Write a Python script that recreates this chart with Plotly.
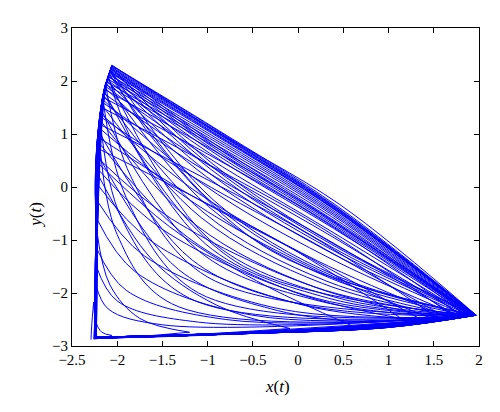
import plotly.graph_objects as go

# ---- trajectory key points, one entry per loop ----
apex_x = [-2.26, -2.225, -2.215, -2.21, -2.21, -2.205, -2.2, -2.2, -2.195, -2.19,
          -2.19, -2.185, -2.18, -2.18, -2.175, -2.17, -2.17, -2.165, -2.16, -2.155,
          -2.15, -2.15, -2.145, -2.14, -2.135, -2.13, -2.125, -2.12, -2.118, -2.115,
          -2.11, -2.108, -2.105, -2.1, -2.098, -2.095, -2.093, -2.09, -2.088, -2.085,
          -2.083, -2.08, -2.078, -2.076, -2.074, -2.072, -2.07, -2.068, -2.066, -2.064,
          -2.062, -2.061, -2.06, -2.06] + \
         [-2.235, -2.23, -2.23, -2.225, -2.225, -2.22, -2.22, -2.215,
          -2.13, -2.16, -2.1, -2.19, -2.08, -2.2]
apex_y = [-2.17, -0.83, 0.24, 0.45, 0.60, 0.72, 0.83, 0.93, 1.02, 1.10,
          1.18, 1.25, 1.32, 1.38, 1.44, 1.50, 1.55, 1.60, 1.65, 1.69,
          1.73, 1.77, 1.81, 1.84, 1.87, 1.90, 1.93, 1.96, 1.98, 2.00,
          2.02, 2.04, 2.06, 2.08, 2.09, 2.11, 2.12, 2.13, 2.15, 2.16,
          2.17, 2.18, 2.19, 2.20, 2.21, 2.22, 2.23, 2.24, 2.25, 2.26,
          2.27, 2.28, 2.29, 2.30] + \
         [-1.85, -1.5, -1.15, -0.6, -0.25, 0.05, 0.35, 0.55,
          1.95, 1.7, 2.1, 1.3, 2.2, 1.0]

knee1_x = [-2.235, -2.08, -1.62, -1.42, -1.32, -1.25, -1.22, -1.20, -1.17, -1.15,
           -1.14, -1.12, -1.11, -1.10, -1.09, -1.08, -1.07, -1.06, -1.05, -1.04,
           -1.04, -1.03, -1.02, -1.02, -1.01, -1.00, -1.00, -0.99, -0.99, -0.99,
           -0.98, -0.98, -0.98, -0.97, -0.97, -0.97, -0.96, -0.96, -0.96, -0.96,
           -0.95, -0.95, -0.95, -0.95, -0.94, -0.94, -0.94, -0.94, -0.94, -0.94,
           -0.93, -0.93, -0.93, -1.00] + \
          [-2.1, -2.0, -1.9, -1.8, -1.7, -1.6, -1.5, -1.4,
           -1.85, -1.9, -1.75, -1.95, -1.6, -2.0]
knee1_y = [-2.55, -1.85, -1.36, -0.75, -1.56, -0.10, -0.95, -0.14, -1.38, -0.30,
           0.26, -0.73, 0.14, -0.12, -1.22, 0.51, -0.58, 0.34, 0.05, 0.66,
           -0.49, 0.46, -1.08, 0.77, 0.19, 0.56, 0.84, -0.37, 0.88, 0.27,
           0.64, 0.92, -0.99, 0.95, 0.69, 0.34, 0.98, -0.28, 0.73, 1.02,
           0.38, 1.03, 0.76, 1.045, -0.24, 1.06, 0.79, 1.075, 0.43, 1.09,
           0.82, 1.105, 1.12, 1.15] + \
          [-2.3, -2.15, -1.95, -1.6, -1.3, -1.05, -0.8, -0.6,
           0.2, -0.2, 0.6, -0.6, 0.9, -0.9]

knee2_x = [-2.17, -1.75, -0.90, -0.46, -0.23, -0.09, -0.03, 0.02, 0.06, 0.10,
           0.135, 0.17, 0.19, 0.21, 0.23, 0.25, 0.27, 0.28, 0.30, 0.31,
           0.32, 0.33, 0.34, 0.35, 0.35, 0.36, 0.37, 0.37, 0.38, 0.38,
           0.39, 0.39, 0.39, 0.40, 0.40, 0.40, 0.41, 0.41, 0.41, 0.42,
           0.42, 0.42, 0.42, 0.42, 0.43, 0.43, 0.43, 0.43, 0.43, 0.44,
           0.44, 0.44, 0.44, 0.46] + \
          [-1.5, -1.1, -0.8, -0.5, -0.2, 0.0, 0.2, 0.3,
           -1.0, -1.1, -0.6, -1.2, -0.3, -1.4]
knee2_y = [-2.74, -2.48, -2.23, -1.77, -2.33, -1.14, -1.99, -1.24, -2.23, -1.49,
           -0.91, -1.88, -1.07, -1.39, -2.15, -0.76, -1.82, -0.95, -1.30, -0.67,
           -1.78, -0.89, -2.10, -0.60, -1.23, -0.83, -0.56, -1.73, -0.53, -1.19,
           -0.78, -0.51, -2.07, -0.49, -0.75, -1.16, -0.47, -1.70, -0.73, -0.45,
           -1.13, -0.44, -0.71, -0.43, -1.68, -0.42, -0.70, -0.42, -1.11, -0.41,
           -0.68, -0.40, -0.37, -0.33] + \
          [-2.6, -2.55, -2.5, -2.42, -2.3, -2.2, -2.1, -1.95,
           -1.7, -2.0, -1.5, -2.1, -1.2, -2.2]

tip_x = [-2.06, -1.2, -0.09, 0.61, 0.98, 1.2, 1.3, 1.38, 1.45, 1.51,
         1.56, 1.61, 1.65, 1.68, 1.71, 1.74, 1.76, 1.78, 1.80, 1.82,
         1.83, 1.845, 1.86, 1.87, 1.88, 1.89, 1.895, 1.90, 1.905, 1.91,
         1.915, 1.92, 1.925, 1.93, 1.933, 1.936, 1.94, 1.942, 1.945, 1.948,
         1.95, 1.952, 1.954, 1.956, 1.958, 1.96, 1.962, 1.964, 1.966, 1.967,
         1.968, 1.969, 1.97, 1.97] + \
        [1.55, 1.7, 1.8, 1.85, 1.88, 1.9, 1.92, 1.93,
         1.9, 1.88, 1.94, 1.85, 1.95, 1.8]
tip_y = [-2.80, -2.74, -2.67, -2.63, -2.58, -2.55, -2.53, -2.52, -2.51, -2.50,
         -2.49, -2.48, -2.475, -2.47, -2.465, -2.46, -2.46, -2.455, -2.45, -2.45,
         -2.45, -2.445, -2.44, -2.44, -2.44, -2.435, -2.435, -2.435, -2.43, -2.43,
         -2.43, -2.43, -2.43, -2.425, -2.425, -2.425, -2.425, -2.425, -2.42, -2.42,
         -2.42, -2.42, -2.42, -2.42, -2.42, -2.42, -2.42, -2.42, -2.42, -2.42,
         -2.42, -2.42, -2.42, -2.42] + \
        [-2.48, -2.47, -2.45, -2.44, -2.44, -2.43, -2.43, -2.43,
         -2.43, -2.44, -2.42, -2.44, -2.42, -2.45]

base1_x = [-2.15, -1.6, -0.9, -0.3, 0.0, 0.2, 0.3, 0.38, 0.45, 0.51,
           0.56, 0.61, 0.65, 0.68, 0.71, 0.74, 0.76, 0.78, 0.80, 0.82,
           0.83, 0.845, 0.86, 0.87, 0.88, 0.89, 0.895, 0.90, 0.905, 0.91,
           0.915, 0.92, 0.925, 0.93, 0.933, 0.936, 0.94, 0.942, 0.945, 0.948,
           0.95, 0.952, 0.954, 0.956, 0.958, 0.96, 0.962, 0.964, 0.966, 0.967,
           0.968, 0.969, 0.97, 0.97] + \
          [0.55, 0.7, 0.8, 0.85, 0.88, 0.9, 0.92, 0.93,
           0.9, 0.88, 0.94, 0.85, 0.95, 0.8]
base1_y = [-2.85, -2.80, -2.76, -2.74, -2.72, -2.70,
           -2.64, -2.65, -2.645, -2.655, -2.64, -2.65, -2.645, -2.655,
           -2.64, -2.65, -2.645, -2.655, -2.64, -2.65, -2.645, -2.655,
           -2.64, -2.65, -2.645, -2.655, -2.64, -2.65, -2.645, -2.655,
           -2.64, -2.65, -2.645, -2.655, -2.64, -2.65, -2.645, -2.655,
           -2.64, -2.65, -2.645, -2.655, -2.64, -2.65, -2.645, -2.655,
           -2.64, -2.65, -2.645, -2.655, -2.64, -2.65, -2.645, -2.655] + \
          [-2.66, -2.65, -2.645, -2.64, -2.645, -2.64, -2.65, -2.64,
           -2.645, -2.65, -2.64, -2.645, -2.64, -2.65]
base2_x = [-2.22, -2.0, -1.7, -1.4, -1.3, -1.2, -1.1, -1.05, -1.0, -1.0,
           -1.0, -1.0, -1.0, -1.0, -1.0, -1.0, -1.0, -1.0, -1.0, -1.0,
           -1.0, -1.0, -1.0, -1.0, -1.0, -1.0, -1.0, -1.0, -1.0, -1.0,
           -1.0, -1.0, -1.0, -1.0, -1.0, -1.0, -1.0, -1.0, -1.0, -1.0,
           -1.0, -1.0, -1.0, -1.0, -1.0, -1.0, -1.0, -1.0, -1.0, -1.0,
           -1.0, -1.0, -1.0, -1.0] + \
          [-1.0, -1.0, -1.0, -1.0, -1.0, -1.0, -1.0, -1.0,
           -1.0, -1.0, -1.0, -1.0, -1.0, -1.0]
base2_y = [-2.86, -2.85, -2.83, -2.82, -2.80,
           -2.78, -2.785, -2.775, -2.79, -2.78, -2.785, -2.775, -2.79,
           -2.78, -2.785, -2.775, -2.79, -2.78, -2.785, -2.775, -2.79,
           -2.78, -2.785, -2.775, -2.79, -2.78, -2.785, -2.775, -2.79,
           -2.78, -2.785, -2.775, -2.79, -2.78, -2.785, -2.775, -2.79,
           -2.78, -2.785, -2.775, -2.79, -2.78, -2.785, -2.775, -2.79,
           -2.78, -2.785, -2.775, -2.79, -2.78, -2.785, -2.775, -2.79,
           -2.78] + \
          [-2.785, -2.775, -2.79, -2.78, -2.785, -2.775, -2.79,
           -2.78, -2.785, -2.775, -2.79, -2.78, -2.785, -2.78]

foot_x = [-2.29, -2.26, -2.25, -2.245, -2.24, -2.24,
          -2.24, -2.235, -2.245, -2.23, -2.24, -2.235, -2.245, -2.23,
          -2.24, -2.235, -2.245, -2.23, -2.24, -2.235, -2.245, -2.23,
          -2.24, -2.235, -2.245, -2.23, -2.24, -2.235, -2.245, -2.23,
          -2.24, -2.235, -2.245, -2.23, -2.24, -2.235, -2.245, -2.23,
          -2.24, -2.235, -2.245, -2.23, -2.24, -2.235, -2.245, -2.23,
          -2.24, -2.235, -2.245, -2.23, -2.24, -2.235, -2.245, -2.23] + \
         [-2.24, -2.235, -2.245, -2.23, -2.24, -2.235, -2.245,
          -2.23, -2.24, -2.235, -2.245, -2.23, -2.24, -2.235]
foot_y = [-2.88, -2.87, -2.86, -2.85, -2.85, -2.845,
          -2.84, -2.845, -2.835, -2.85, -2.84, -2.845, -2.835, -2.85,
          -2.84, -2.845, -2.835, -2.85, -2.84, -2.845, -2.835, -2.85,
          -2.84, -2.845, -2.835, -2.85, -2.84, -2.845, -2.835, -2.85,
          -2.84, -2.845, -2.835, -2.85, -2.84, -2.845, -2.835, -2.85,
          -2.84, -2.845, -2.835, -2.85, -2.84, -2.845, -2.835, -2.85,
          -2.84, -2.845, -2.835, -2.85, -2.84, -2.845, -2.835, -2.85] + \
         [-2.84, -2.845, -2.835, -2.85, -2.84, -2.845, -2.835,
          -2.85, -2.84, -2.845, -2.835, -2.85, -2.84, -2.845]

side1_x = [-2.285, -2.24, -2.235, -2.232, -2.23, -2.228,
           -2.232, -2.226, -2.236, -2.222, -2.232, -2.226, -2.236, -2.222,
           -2.232, -2.226, -2.236, -2.222, -2.232, -2.226, -2.236, -2.222,
           -2.232, -2.226, -2.236, -2.222, -2.232, -2.226, -2.236, -2.222,
           -2.232, -2.226, -2.236, -2.222, -2.232, -2.226, -2.236, -2.222,
           -2.232, -2.226, -2.236, -2.222, -2.232, -2.226, -2.236, -2.222,
           -2.232, -2.226, -2.236, -2.222, -2.232, -2.226, -2.236, -2.222] + \
          [-2.235, -2.235, -2.235, -2.23, -2.23, -2.23, -2.23, -2.228,
           -2.225, -2.23, -2.225, -2.23, -2.228, -2.232]
side1_y = [-2.70, -2.2, -1.5, -1.0, -1.0, -1.0, -1.0, -1.0, -1.0, -1.0,
           -1.0, -1.0, -1.0, -1.0, -1.0, -1.0, -1.0, -1.0, -1.0, -1.0,
           -1.0, -1.0, -1.0, -1.0, -1.0, -1.0, -1.0, -1.0, -1.0, -1.0,
           -1.0, -1.0, -1.0, -1.0, -1.0, -1.0, -1.0, -1.0, -1.0, -1.0,
           -1.0, -1.0, -1.0, -1.0, -1.0, -1.0, -1.0, -1.0, -1.0, -1.0,
           -1.0, -1.0, -1.0, -1.0] + \
          [-2.4, -2.3, -2.2, -2.0, -1.6, -1.2, -1.0, -1.0,
           -1.0, -1.0, -1.0, -1.0, -1.0, -1.0]
side2_x = [-2.275, -2.235, -2.235, -2.24, -2.24, -2.24, -2.238, -2.235, -2.233, -2.23,
           -2.228, -2.225, -2.222, -2.218, -2.215, -2.212, -2.21, -2.205, -2.202, -2.2,
           -2.196, -2.193, -2.19, -2.188, -2.185, -2.183, -2.18, -2.178, -2.176, -2.174,
           -2.172, -2.17, -2.168, -2.166, -2.165, -2.163, -2.162, -2.161, -2.16, -2.158,
           -2.156, -2.154, -2.152, -2.15, -2.148, -2.146, -2.144, -2.142, -2.14, -2.138,
           -2.136, -2.134, -2.132, -2.13] + \
          [-2.235, -2.232, -2.232, -2.228, -2.228, -2.232, -2.238, -2.24,
           -2.18, -2.2, -2.168, -2.222, -2.15, -2.232]
side2_y = [-2.45, -1.30, -0.25, 0.00, 0.15, 0.27, 0.38, 0.48, 0.57, 0.65,
           0.73, 0.80, 0.87, 0.93, 0.99, 1.05, 1.10, 1.15, 1.20, 1.24,
           1.28, 1.32, 1.36, 1.39, 1.42, 1.45, 1.48, 1.51, 1.53, 1.55,
           1.57, 1.59, 1.61, 1.63, 1.64, 1.66, 1.67, 1.68, 1.70, 1.71,
           1.72, 1.73, 1.74, 1.75, 1.76, 1.77, 1.78, 1.79, 1.80, 1.81,
           1.82, 1.83, 1.84, 1.85] + \
          [-2.1, -1.9, -1.6, -1.1, -0.75, -0.45, -0.1, 0.1,
           1.5, 1.25, 1.65, 0.85, 1.75, 0.55]

# ---- assemble the trajectory: left side, descent, bottom return per loop ----
xs, ys = [], []
n = len(apex_x)
for k in range(n):
    xs += [foot_x[k], side1_x[k], side2_x[k], apex_x[k], None]
    ys += [foot_y[k], side1_y[k], side2_y[k], apex_y[k], None]
    xs += [apex_x[k], knee1_x[k], knee2_x[k], tip_x[k], None]
    ys += [apex_y[k], knee1_y[k], knee2_y[k], tip_y[k], None]
    nx = foot_x[k + 1] if k + 1 < n else foot_x[k]
    ny = foot_y[k + 1] if k + 1 < n else foot_y[k]
    xs += [tip_x[k], base1_x[k], base2_x[k], nx, None]
    ys += [tip_y[k], base1_y[k], base2_y[k], ny, None]

fig = go.Figure()
fig.add_trace(go.Scatter(
    x=xs, y=ys, mode="lines",
    line=dict(color="#0000ff", width=1, shape="spline", smoothing=1.0),
    connectgaps=False, hoverinfo="skip", showlegend=False,
))

font_family = "Liberation Serif, Times New Roman, serif"
axis_common = dict(
    showgrid=False, zeroline=False, showline=True, linecolor="black", linewidth=1,
    mirror="allticks", ticks="inside", ticklen=5, tickcolor="black", tickwidth=1,
    tickfont=dict(family=font_family, size=15, color="black"),
)
fig.update_xaxes(range=[-2.5, 2], tick0=-2.5, dtick=0.5, **axis_common)
fig.update_yaxes(range=[-3, 3], tick0=-3, dtick=1, **axis_common)

fig.add_annotation(text="<i>x</i>(<i>t</i>)", xref="paper", yref="paper",
                   x=0.506, y=-0.128, showarrow=False,
                   font=dict(family=font_family, size=17, color="black"),
                   xanchor="center", yanchor="middle")
fig.add_annotation(text="<i>y</i>(<i>t</i>)", xref="paper", yref="paper",
                   x=-0.09, y=0.414, showarrow=False, textangle=-90,
                   font=dict(family=font_family, size=17, color="black"),
                   xanchor="center", yanchor="middle")

# the page body adds an 8 px offset, so the margins are shifted to compensate
fig.update_layout(
    width=500, height=412,
    margin=dict(l=64, r=29, t=17, b=74),
    paper_bgcolor="white", plot_bgcolor="white",
)
fig.write_html("out.html")
